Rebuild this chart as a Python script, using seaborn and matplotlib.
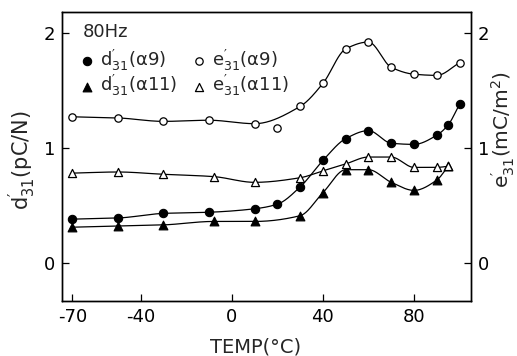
import numpy as np
import pandas as pd
import matplotlib
matplotlib.use("Agg")
import matplotlib.pyplot as plt
import seaborn as sns

# values
temp_d9 = [-70, -50, -30, -10, 10, 20, 30, 40, 50, 60, 70, 80, 90, 95, 100]
d31_a9 = [0.38, 0.39, 0.43, 0.44, 0.47, 0.51, 0.66, 0.89, 1.08, 1.15, 1.04, 1.03, 1.11, 1.20, 1.38]

temp_e9 = [-70, -50, -30, -10, 10, 20, 30, 40, 50, 60, 70, 80, 90, 100]
e31_a9 = [1.27, 1.26, 1.23, 1.24, 1.21, 1.17, 1.36, 1.56, 1.86, 1.92, 1.70, 1.64, 1.63, 1.74]
e9_outlier = 20  # point the drawn curve ignores

temp_d11 = [-70, -50, -30, -8, 10, 30, 40, 50, 60, 70, 80, 90, 95]
d31_a11 = [0.31, 0.32, 0.33, 0.36, 0.36, 0.41, 0.61, 0.81, 0.81, 0.70, 0.63, 0.72, 0.84]

temp_e11 = [-70, -50, -30, -8, 10, 30, 40, 50, 60, 70, 80, 90, 95]
e31_a11 = [0.78, 0.79, 0.77, 0.75, 0.70, 0.74, 0.80, 0.86, 0.92, 0.92, 0.83, 0.83, 0.84]

x_ticks = [-70, -40, 0, 40, 80]
y_ticks = [0, 1, 2]


def smooth(x, y, n=400):
    # monotone cubic (pchip) curve through the points
    x = np.asarray(x, float)
    y = np.asarray(y, float)
    h = np.diff(x)
    dl = np.diff(y) / h
    k = len(x)
    d = np.zeros(k)
    for i in range(1, k - 1):
        if dl[i - 1] * dl[i] > 0:
            w1 = 2 * h[i] + h[i - 1]
            w2 = h[i] + 2 * h[i - 1]
            d[i] = (w1 + w2) / (w1 / dl[i - 1] + w2 / dl[i])
    d[0] = dl[0]
    d[-1] = dl[-1]
    xs = np.linspace(x[0], x[-1], n)
    j = np.clip(np.searchsorted(x, xs) - 1, 0, k - 2)
    t = (xs - x[j]) / h[j]
    h00 = 2 * t ** 3 - 3 * t ** 2 + 1
    h10 = t ** 3 - 2 * t ** 2 + t
    h01 = -2 * t ** 3 + 3 * t ** 2
    h11 = t ** 3 - t ** 2
    ys = h00 * y[j] + h10 * h[j] * d[j] + h01 * y[j + 1] + h11 * h[j] * d[j + 1]
    return xs, ys


sns.set_style("ticks")
plt.rcParams['font.family'] = ['DejaVu Sans']
plt.rcParams['axes.unicode_minus'] = False
plt.rcParams['mathtext.fontset'] = 'dejavusans'

fig = plt.figure(figsize=(5.17, 3.56), dpi=100)
ax = fig.add_axes([0.12, 0.155, 0.791, 0.811])
ax2 = ax.twinx()

lw = 0.9
# d' curves on left axis
for tx, vals in [(temp_d9, d31_a9), (temp_d11, d31_a11)]:
    xs, ys = smooth(tx, vals)
    sns.lineplot(x=xs, y=ys, ax=ax, color='black', lw=lw, estimator=None, sort=False)

# e' curves on right axis
df_e9 = pd.DataFrame({'T': temp_e9, 'v': e31_a9})
fit_e9 = df_e9[df_e9['T'] != e9_outlier]
xs, ys = smooth(fit_e9['T'], fit_e9['v'])
sns.lineplot(x=xs, y=ys, ax=ax2, color='black', lw=lw, estimator=None, sort=False)
xs, ys = smooth(temp_e11, e31_a11)
sns.lineplot(x=xs, y=ys, ax=ax2, color='black', lw=lw, estimator=None, sort=False)

lab_d9 = r"$\mathregular{d_{31}^{\prime}}$(α9)"
lab_d11 = r"$\mathregular{d_{31}^{\prime}}$(α11)"
lab_e9 = r"$\mathregular{e_{31}^{\prime}}$(α9)"
lab_e11 = r"$\mathregular{e_{31}^{\prime}}$(α11)"

sns.scatterplot(x=temp_d9, y=d31_a9, ax=ax, marker='o', s=36, color='black',
                edgecolor='black', linewidth=0.8, zorder=3, label=lab_d9)
sns.scatterplot(x=temp_d11, y=d31_a11, ax=ax, marker='^', s=40, color='black',
                edgecolor='black', linewidth=0.8, zorder=3, label=lab_d11)
sns.scatterplot(x=temp_e9, y=e31_a9, ax=ax2, marker='o', s=28, color='white',
                edgecolor='black', linewidth=0.9, zorder=3, label=lab_e9)
sns.scatterplot(x=temp_e11, y=e31_a11, ax=ax2, marker='^', s=34, color='white',
                edgecolor='black', linewidth=0.9, zorder=3, label=lab_e11)

for a in (ax, ax2):
    a.set_xlim(-74.5, 105)
    a.set_ylim(-0.33, 2.18)
    a.set_yticks(y_ticks)
    if a.get_legend() is not None:
        a.get_legend().remove()
    for s in a.spines.values():
        s.set_visible(True)
        s.set_linewidth(1.0)
        s.set_color('black')

ax.set_xticks(x_ticks)
ax.tick_params(axis='both', direction='in', length=5, width=0.9, labelsize=13, pad=5, colors='black')
ax2.tick_params(axis='y', direction='in', length=5, width=0.9, labelsize=13, pad=5, colors='black')

ax.set_xlabel('TEMP(°C)', fontsize=14)
ax.xaxis.set_label_coords(0.474, -0.128)
ax.set_ylabel(r"$\mathregular{d_{31}^{\prime}}$(pC/N)", fontsize=15)
ax.yaxis.set_label_coords(-0.059, 0.488)
ax2.set_ylabel(r"$\mathregular{e_{31}^{\prime}}$(mC/m$\mathregular{^2}$)", fontsize=14.5)
ax2.yaxis.set_label_coords(1.046, 0.592)

ax2.text(0.051, 0.931, '80Hz', transform=ax2.transAxes, fontsize=13, va='center', ha='left')

hA, lA = ax.get_legend_handles_labels()
hB, lB = ax2.get_legend_handles_labels()
leg = ax2.legend(hA + hB, lA + lB, ncol=2, loc='upper left', bbox_to_anchor=(0.018, 0.919),
                 fontsize=13, frameon=False,
                 handlelength=0.6, handletextpad=0.4, columnspacing=0.9,
                 labelspacing=0.0, borderaxespad=0.3)

fig.savefig('out.png', dpi=100)
